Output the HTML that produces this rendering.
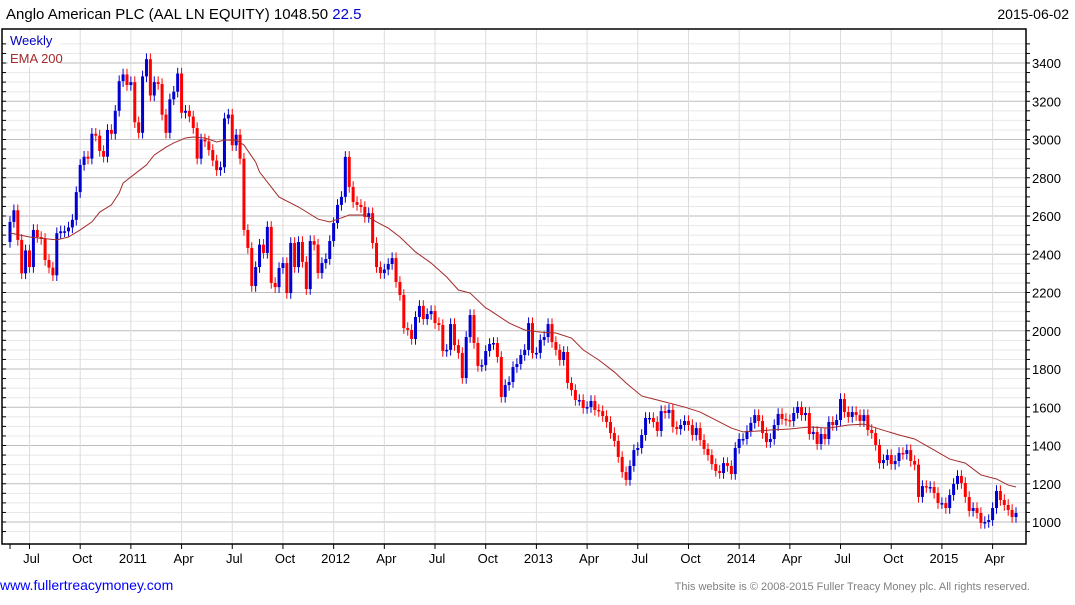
<!DOCTYPE html>
<html><head><meta charset="utf-8"><style>
body{margin:0;background:#fff;width:1075px;height:600px;overflow:hidden;font-family:"Liberation Sans",sans-serif}
</style></head><body>
<svg id="c" width="1075" height="600" xmlns="http://www.w3.org/2000/svg" font-family="Liberation Sans, sans-serif"></svg>
<script>
const closes=[2569,2630,2475,2300,2420,2333,2527,2490,2480,2370,2330,2290,2510,2520,2520,2540,2580,2725,2867,2910,2900,3030,3020,2940,2910,3050,3030,3150,3305,3340,3285,3300,3090,3035,3330,3420,3230,3300,3290,3130,3035,3210,3250,3345,3140,3150,3120,3060,2900,3000,2990,2945,2890,2840,2855,3110,3130,2970,3025,2900,2527,2433,2234,2333,2450,
2407,2543,2250,2228,2328,2354,2197,2459,2333,2464,2360,2218,2469,2450,2302,2354,2375,2469,2563,2658,2700,2909,2752,2673,2658,2647,2595,2615,2459,2333,2302,2320,2349,2380,2255,2187,2014,2004,1957,2072,2130,2061,2087,2103,2040,2030,1894,1900,2035,1925,1884,1753,1967,2082,1936,1816,1820,1894,
1931,1936,1863,1654,1716,1732,1810,1826,1873,1900,2040,1884,1884,1952,1967,2035,1941,1900,1847,1889,1727,1690,1638,1638,1596,1601,1633,1586,1580,1554,1523,1465,1424,1340,1261,1220,1293,1376,1387,1455,1544,1544,1523,1476,1580,1570,1586,1497,1486,1507,1528,1507,1455,1491,1429,1382,1350,1303,1267,1256,1308,1293,1251,1387,1434,1434,1476,1518,1559,1528,
1465,1418,1434,1507,1565,1539,1533,1528,1570,1601,1559,1570,1460,1471,1408,1460,1434,1523,1507,1533,1643,1575,1549,1575,1559,1528,1559,1481,1465,1403,1308,1324,1350,1303,1319,1361,1356,1376,1319,1300,1131,1188,1183,1183,1152,1099,1099,1073,1141,1199,1241,1204,1131,1058,1073,1047,995,1000,1010,1073,1162,1115,1089,1063,1026,1047];
const firstOpen=2464;
const emaWeek=[0,5,12,15,18,21,23,26,28,29,32,35,37,40,42,45,47,50,53,55,58,60,63,64,69,74,79,82,85,87,91,94,97,100,104,108,112,115,118,122,123,128,132,136,140,144,147,151,155,158,162,165,169,173,177,181,185,188,192,195,200,205,210,215,219,223,228,232,237,241,245,249,253,256,258];
const emaVal=[2511,2490,2475,2490,2527,2569,2620,2658,2720,2772,2820,2867,2919,2960,2982,3008,3013,3008,2987,2997,2997,2971,2882,2830,2699,2647,2584,2569,2590,2605,2605,2569,2537,2490,2412,2354,2281,2213,2197,2119,2108,2040,2004,1993,1988,1962,1900,1847,1784,1727,1659,1643,1622,1601,1575,1533,1491,1471,1476,1481,1486,1497,1491,1507,1512,1486,1455,1434,1376,1329,1308,1246,1225,1193,1183];
const yTicks=[1000,1200,1400,1600,1800,2000,2200,2400,2600,2800,3000,3200,3400];
const xLabels=["Jul","Oct","2011","Apr","Jul","Oct","2012","Apr","Jul","Oct","2013","Apr","Jul","Oct","2014","Apr","Jul","Oct","2015","Apr"];
const xLabelWeek=[5,18,31,44,57,70,83,96,109,122,135,148,161,174,187,200,213,226,239,252];
const L=2,R=1026,T=29,B=544;
const y=p=>522-(p-1000)*0.19125;
const x=i=>10+i*(1016-10)/258;
const svg=document.getElementById('c');
const NS='http://www.w3.org/2000/svg';
function mk(t,a,p){const e=document.createElementNS(NS,t);for(const k in a)e.setAttribute(k,a[k]);(p||svg).appendChild(e);return e;}
const grid=mk('g',{});


for(let p=950;p<=3500;p+=50){const yy=y(p);if(yy<T||yy>B)continue;const major=p%200===0;
 mk('line',{x1:L,x2:R,y1:yy,y2:yy,stroke:major?'#bdbdbd':'#e8e8e8','stroke-width':1},grid);
 mk('line',{x1:L,x2:L+4,y1:yy,y2:yy,stroke:'#000'},grid);
 mk('line',{x1:R,x2:R+4,y1:yy,y2:yy,stroke:'#000'},grid);}
xLabelWeek.forEach((w,i)=>{const xx=x(w);mk('line',{x1:xx,x2:xx,y1:T,y2:B,stroke:'#dcdcdc'},grid);
 mk('line',{x1:xx,x2:xx,y1:B,y2:B+5,stroke:'#000'},grid);
 const t=mk('text',{x:xx+2,y:563,'font-size':13,'text-anchor':'middle',fill:'#000'});t.textContent=xLabels[i];
 
 });
mk('line',{x1:10,x2:10,y1:B,y2:B+5,stroke:'#000'},grid);
yTicks.forEach(v=>{const t=mk('text',{x:1032,y:y(v)+5,'font-size':13,fill:'#000'});t.textContent=v;
 
 });
const fr=mk('rect',{x:L,y:T,width:R-L,height:B-T,fill:'none',stroke:'#000','stroke-width':1.5});


const cg=mk('g',{});


closes.forEach((c,i)=>{const o=i?closes[i-1]:firstOpen;const up=c>=o;const col=up?'#0000d0':'#ff0000';
 const xx=x(i);const hi=Math.max(o,c)+30,lo=Math.min(o,c)-30;
 mk('line',{x1:xx,x2:xx,y1:y(hi),y2:y(lo),stroke:col,'stroke-width':1},cg);
 const top=y(Math.max(o,c)),bot=y(Math.min(o,c));
 const r=mk('rect',{x:xx-1.5,y:top,width:3,height:Math.max(1.5,bot-top),fill:col},cg);
 
 });
const pts=emaWeek.map((w,i)=>x(w)+','+y(emaVal[i])).join(' ');
const ema=mk('polyline',{points:pts,fill:'none',stroke:'#a52a2a','stroke-width':1});


function txt(s,a,name){const t=mk('text',a);t.textContent=s;return t;}
const title=txt('',{x:6,y:19,'font-size':15,fill:'#000'},'chart-title');
title.innerHTML='Anglo American PLC (AAL LN EQUITY) 1048.50 <tspan fill="#0000d0">22.5</tspan>';
txt('2015-06-02',{x:1069,y:19,'font-size':14,fill:'#000','text-anchor':'end'},'date-label');
mk('rect',{x:8,y:31,width:52,height:36,fill:'#fff'});
txt('Weekly',{x:10,y:45,'font-size':13,fill:'#0000c0'},'legend-weekly');
txt('EMA 200',{x:10,y:63,'font-size':13,fill:'#a52a2a'},'legend-ema-200');
const link=txt('www.fullertreacymoney.com',{x:0,y:590,'font-size':14,fill:'#0000ff'},'website-link');

txt('This website is © 2008-2015 Fuller Treacy Money plc. All rights reserved.',{x:1030,y:590,'font-size':11,fill:'#808080','text-anchor':'end'},'copyright-notice');
</script>
</body></html>
